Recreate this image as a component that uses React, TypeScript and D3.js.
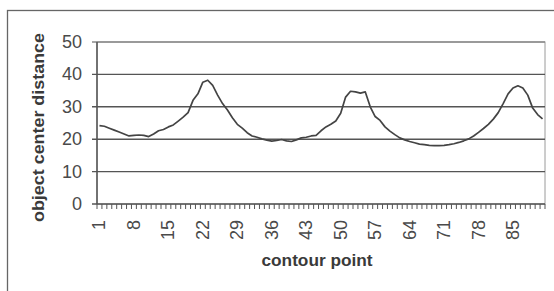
import React from "react";
import * as d3 from "d3";

const width = 554;
const height = 291;
const margin = { top: 42, right: 9, bottom: 87, left: 97 };

// object center distance per contour point (1..91)
const distances = [
  24.2, 24.0, 23.4, 22.8, 22.2, 21.6, 21.0, 21.2, 21.3, 21.2,
  20.8, 21.6, 22.6, 23.0, 23.8, 24.4, 25.6, 26.8, 28.2, 32.0,
  34.0, 37.6, 38.2, 36.6, 33.6, 31.0, 29.0, 26.6, 24.6, 23.4,
  22.0, 21.0, 20.6, 20.1, 19.7, 19.4, 19.6, 19.9, 19.5, 19.3,
  19.8, 20.4, 20.6, 21.0, 21.2, 22.6, 23.8, 24.6, 25.6, 28.0,
  33.0, 34.8, 34.6, 34.2, 34.6, 30.0, 27.0, 25.8, 23.8, 22.5,
  21.4, 20.4, 19.8, 19.3, 18.9, 18.5, 18.3, 18.1, 18.0, 18.0,
  18.1, 18.3, 18.6, 19.0, 19.5, 20.1, 21.0, 22.1, 23.3, 24.6,
  26.2, 28.2, 31.0, 34.0, 35.8, 36.5, 35.8, 33.6, 29.6, 27.6,
  26.3
];
const points = distances.map((_, i) => i + 1);
const xLabels = [1, 8, 15, 22, 29, 36, 43, 50, 57, 64, 71, 78, 85];
const yTicks = [0, 10, 20, 30, 40, 50];

const xTitle = "contour point";
const yTitle = "object center distance";

const ink = "#4a4a4a";
const font = "'Liberation Sans', Arial, sans-serif";

export default function App() {
  const x = d3
    .scaleBand<number>()
    .domain(points)
    .range([margin.left, width - margin.right]);
  const y = d3
    .scaleLinear()
    .domain([0, 50])
    .range([height - margin.bottom, margin.top]);

  const cx = (p: number) => (x(p) as number) + x.bandwidth() / 2;
  const line = d3
    .line<number>()
    .x((_, i) => cx(points[i]))
    .y(d => y(d));

  const y0 = y(0);
  // category boundaries for tick marks
  const bounds = points.map(p => x(p) as number).concat([width - margin.right]);

  return (
    <svg
      width={width}
      height={height}
      style={{ position: "absolute", left: 0, top: 0, background: "#fff" }}
    >
      {/* chart area frame */}
      <rect x={7.5} y={10.5} width={560} height={300} fill="none" stroke="#666" strokeWidth={1.3} />

      {/* plot area border */}
      <rect
        x={margin.left}
        y={margin.top}
        width={width - margin.right - margin.left}
        height={y0 - margin.top}
        fill="none"
        stroke="#9a9a9a"
        strokeWidth={1}
      />

      {/* gridlines */}
      {yTicks.slice(1).map(t => (
        <line
          key={t}
          x1={margin.left - 5}
          x2={width - margin.right}
          y1={y(t)}
          y2={y(t)}
          stroke={t === 50 ? "#8a8a8a" : "#555"}
          strokeWidth={1.4}
        />
      ))}

      {/* axes */}
      <line x1={margin.left} x2={margin.left} y1={margin.top} y2={y0} stroke="#555" strokeWidth={1.5} />
      <line x1={margin.left - 5} x2={width - margin.right} y1={y0} y2={y0} stroke="#555" strokeWidth={1.5} />
      {yTicks.map(t => (
        <text
          key={t}
          x={82}
          y={y(t)}
          textAnchor="end"
          dominantBaseline="central"
          fontFamily={font}
          fontSize={18}
          fill={ink}
        >
          {t}
        </text>
      ))}

      {/* x tick marks */}
      {bounds.map((b, i) => (
        <line key={i} x1={b} x2={b} y1={y0} y2={y0 + 5} stroke="#555" strokeWidth={1} />
      ))}

      {/* x tick labels */}
      {xLabels.map(p => (
        <text
          key={p}
          transform={`translate(${cx(p)},${y0 + 16}) rotate(-90)`}
          textAnchor="end"
          dominantBaseline="central"
          fontFamily={font}
          fontSize={18}
          fill={ink}
        >
          {p}
        </text>
      ))}

      {/* series line */}
      <path d={line(distances) || ""} fill="none" stroke="#444" strokeWidth={1.7} strokeLinejoin="round" />

      {/* axis titles */}
      <text
        x={317}
        y={266}
        textAnchor="middle"
        fontFamily={font}
        fontSize={16}
        fontWeight="bold"
        fill="#3a3a3a"
        textLength={111}
        lengthAdjust="spacingAndGlyphs"
      >
        {xTitle}
      </text>
      <text
        transform={`translate(38,127.5) rotate(-90)`}
        textAnchor="middle"
        dominantBaseline="central"
        fontFamily={font}
        fontSize={16.5}
        fontWeight="bold"
        fill="#3a3a3a"
        textLength={189}
        lengthAdjust="spacingAndGlyphs"
      >
        {yTitle}
      </text>
    </svg>
  );
}
